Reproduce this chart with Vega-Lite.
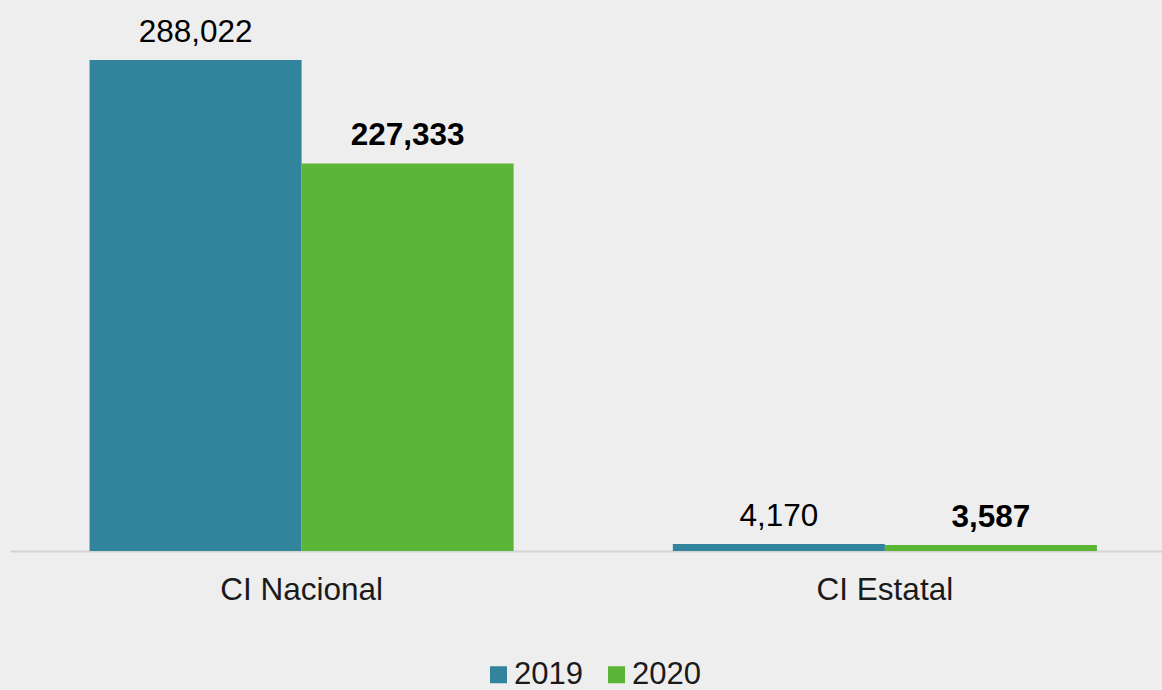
{
  "$schema": "https://vega.github.io/schema/vega-lite/v6.json",
  "autosize": {"type": "none"},
  "width": 1152,
  "height": 551,
  "padding": {"left": 10, "top": 0, "right": 0, "bottom": 139},
  "background": "#eeeeee",
  "config": {"view": {"stroke": null}, "font": "Liberation Sans"},
  "data": {
    "values": [
      {"cat": "CI Nacional", "year": "2019", "value": 288022},
      {"cat": "CI Nacional", "year": "2020", "value": 227333},
      {"cat": "CI Estatal", "year": "2019", "value": 4170},
      {"cat": "CI Estatal", "year": "2020", "value": 3587}
    ]
  },
  "encoding": {
    "x": {
      "field": "cat", "type": "nominal", "sort": ["CI Nacional", "CI Estatal"],
      "scale": {"paddingInner": 0.273, "paddingOuter": 0.124, "align": 0.55},
      "axis": {
        "title": null, "ticks": false, "tickSize": 0, "labelAngle": 0,
        "labelFontSize": 31.5, "labelColor": "#1a1a1a", "labelPadding": 23,
        "labelFont": "Liberation Sans",
        "domainColor": "#d4d4d4", "domainWidth": 2, "grid": false
      }
    },
    "xOffset": {"field": "year", "type": "nominal", "scale": {"paddingInner": 0, "paddingOuter": 0}},
    "y": {
      "field": "value", "type": "quantitative",
      "scale": {"domain": [0, 323200], "nice": false, "zero": true},
      "axis": null
    }
  },
  "layer": [
    {
      "mark": {"type": "bar"},
      "encoding": {
        "color": {
          "field": "year", "type": "nominal",
          "scale": {"domain": ["2019", "2020"], "range": ["#31849B", "#5BB537"]},
          "legend": {
            "title": null, "orient": "none", "direction": "horizontal",
            "legendX": 473, "legendY": 659,
            "symbolType": "square", "symbolSize": 289, "symbolStrokeWidth": 0,
            "labelFontSize": 31, "labelColor": "#1a1a1a", "labelOffset": 0,
            "columnPadding": 18, "padding": 0, "labelFont": "Liberation Sans"
          }
        }
      }
    },
    {
      "transform": [{"filter": "datum.year == '2019'"}],
      "mark": {"type": "text", "baseline": "alphabetic", "dy": -18, "fontSize": 31.5, "color": "#000000"},
      "encoding": {"text": {"field": "value", "type": "quantitative", "format": ","}}
    },
    {
      "transform": [{"filter": "datum.year == '2020'"}],
      "mark": {"type": "text", "baseline": "alphabetic", "dy": -18, "fontSize": 31.5, "fontWeight": "bold", "color": "#000000"},
      "encoding": {"text": {"field": "value", "type": "quantitative", "format": ","}}
    }
  ]
}
